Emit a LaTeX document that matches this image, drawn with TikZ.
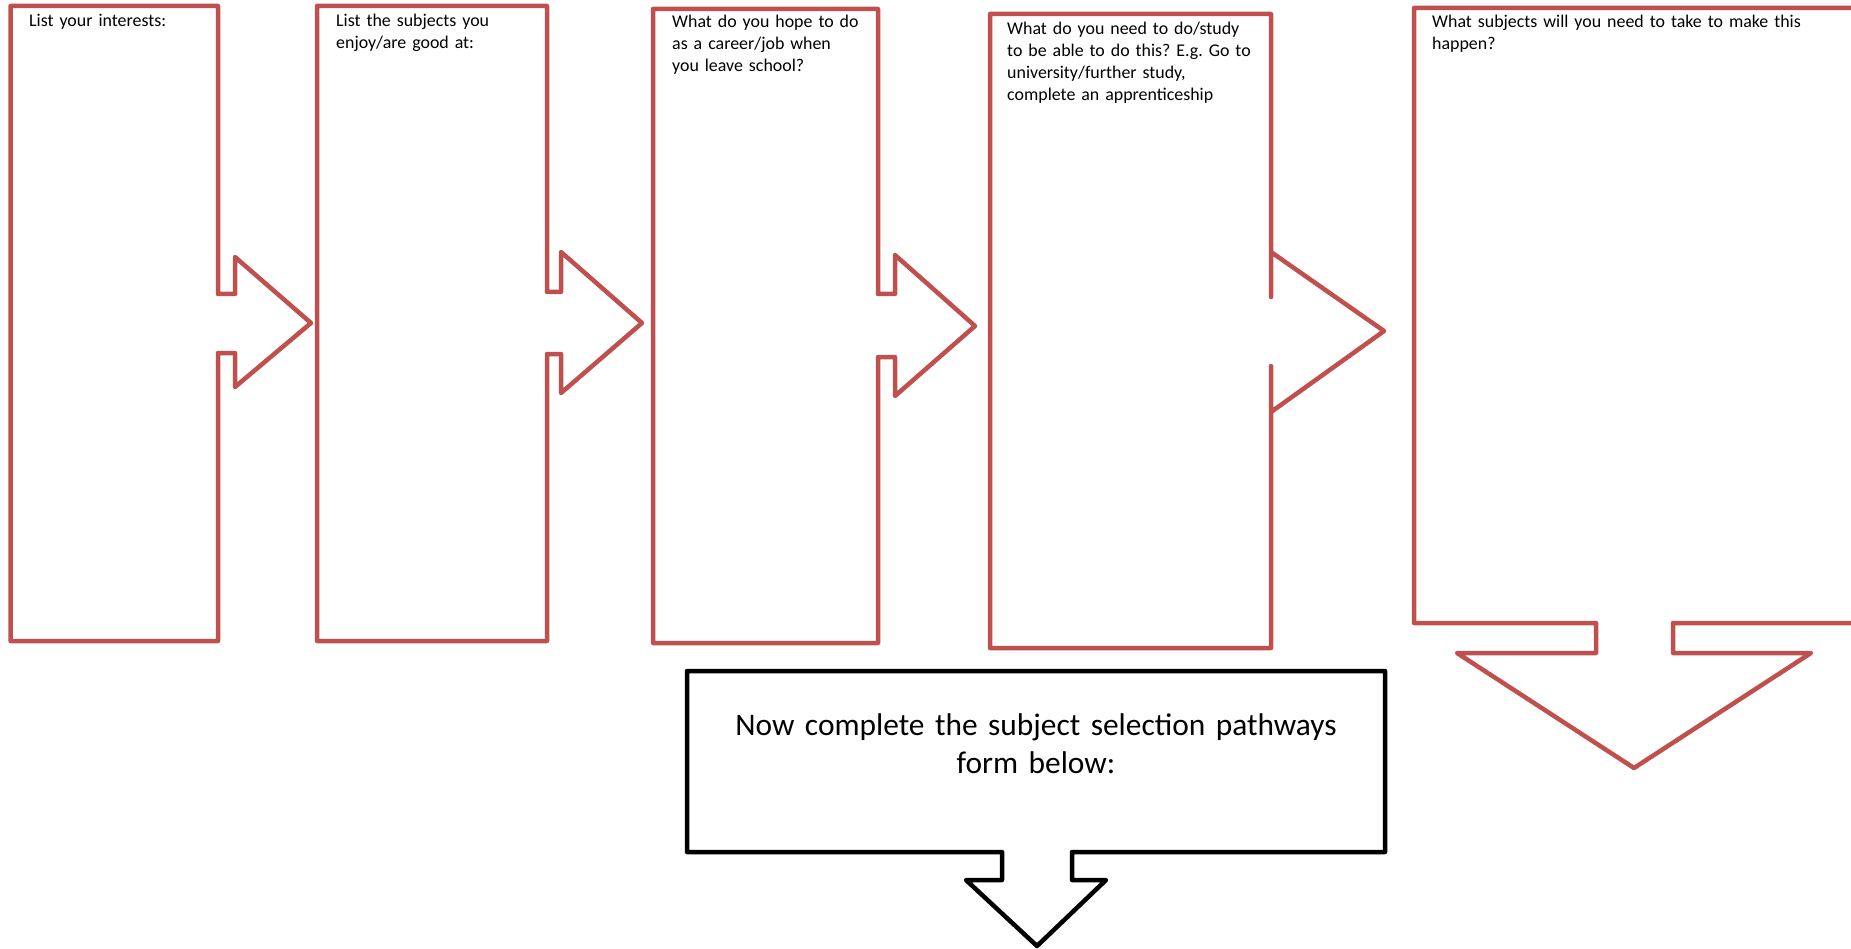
\documentclass[tikz,border=0pt]{standalone}
\usepackage{fontspec}
\setmainfont{Carlito}
\usetikzlibrary{positioning}
\definecolor{calloutred}{HTML}{C0504D}
\frenchspacing

\begin{document}
\begin{tikzpicture}[
    x=1pt, y=-1pt,
    redcallout/.style={draw=calloutred, line width=4.5pt, line join=round, line cap=round},
    blackcallout/.style={draw=black, line width=4.5pt, line join=round, line cap=round},
    prompt/.style={anchor=base west, inner sep=0pt, text width=#1, align=left, font=\fontsize{17.9}{22}\selectfont},
    prompt/.default=230pt,
    banner/.style={anchor=base, inner sep=0pt, text width=650pt, align=center, font=\fontsize{31.4}{38.5}\selectfont}
]
\useasboundingbox (0,0) rectangle (1851,949);

% Right arrow callouts
\draw[redcallout] (10.5,6) -- (218,6) -- (218,294) -- (235,294) -- (235,257) -- (311,323) -- (235,387) -- (235,353) -- (218,353) -- (218,641) -- (10.5,641) -- cycle;
\draw[redcallout] (317,6) -- (547,6) -- (547,292) -- (561,292) -- (561,252) -- (642,323) -- (561,393) -- (561,354) -- (547,354) -- (547,641) -- (317,641) -- cycle;
\draw[redcallout] (653,9) -- (878,9) -- (878,294) -- (895,294) -- (895,255) -- (975,326) -- (895,396) -- (895,357) -- (878,357) -- (878,643) -- (653,643) -- cycle;
\draw[redcallout] (990,14) -- (1271,14) -- (1271,297) -- (1271,252) -- (1384,331) -- (1271,412) -- (1271,366) -- (1271,648) -- (990,648) -- cycle;

% Down arrow callouts
\draw[redcallout] (1414,8) -- (1880,8) -- (1880,623) -- (1673,623) -- (1673,653) -- (1811,653) -- (1634,768) -- (1457,653) -- (1596,653) -- (1596,623) -- (1414,623) -- cycle;
\draw[blackcallout] (687,671) -- (1385,671) -- (1385,852) -- (1072,852) -- (1072,880) -- (1106,880) -- (1037,946) -- (966,880) -- (1002,880) -- (1002,852) -- (687,852) -- cycle;

% Prompts
\node[prompt=185pt] (interests) at (29,27) {List your interests:};
\node[prompt] (subjects) at (336,27) {List the subjects you\\enjoy/are good at:};
\node[prompt] (career) at (672,28) {What do you hope to do\\as a career/job when\\you leave school?};
\node[prompt=300pt] (study) at (1007,35) {What do you need to do/study\\to be able to do this? E.g. Go to\\university/further study,\\complete an apprenticeship};
\node[prompt=420pt] (choices) at (1432,28) {What subjects will you need to take to make this\\happen?};
\node[banner] (pathways) at (1036,735) {Now complete the subject selection pathways\\form below:};

\end{tikzpicture}
\end{document}
